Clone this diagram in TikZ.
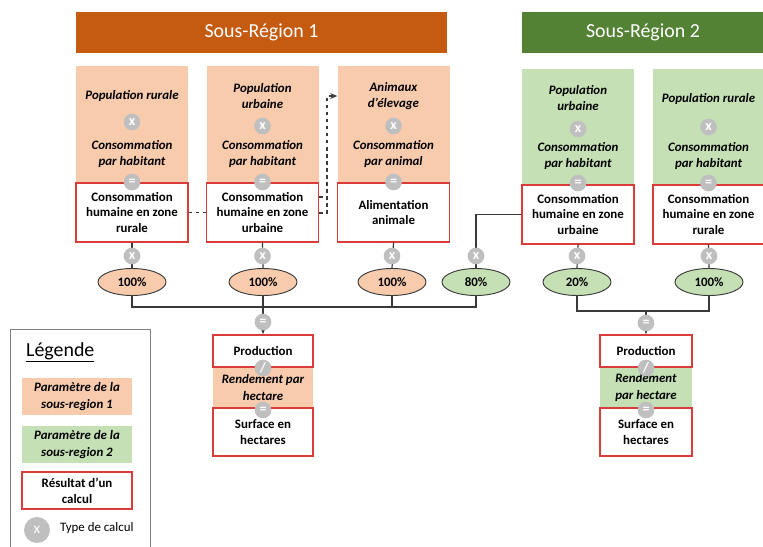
\documentclass[tikz,border=0pt]{standalone}
\usepackage{fontspec}
\setmainfont{Carlito}
\usetikzlibrary{arrows.meta,shapes.geometric}

\definecolor{sroneorange}{HTML}{C55A11}
\definecolor{srtwogreen}{HTML}{548235}
\definecolor{paramone}{HTML}{F8CBAD}
\definecolor{paramtwo}{HTML}{C5E0B4}
\definecolor{resultred}{HTML}{DA3B3B}
\definecolor{opgray}{HTML}{BFBFBF}
\definecolor{linegray}{HTML}{3A3A3A}

\begin{document}
\begin{tikzpicture}[x=0.03cm, y=-0.03cm,
    header/.style={minimum height=1.23cm, inner sep=0, text=white, font=\fontsize{17}{20}\selectfont},
    parambox/.style={minimum width=3.36cm, minimum height=3.51cm, inner sep=0},
    ptext/.style={align=center, font=\fontsize{11}{14}\selectfont\bfseries\itshape},
    result/.style={draw=resultred, line width=1.2pt, fill=white, minimum width=3.36cm, minimum height=1.77cm,
                   inner sep=0, align=center, font=\fontsize{11}{13.5}\selectfont\bfseries},
    op/.style={circle, fill=opgray, text=white, minimum size=0.5cm, inner sep=0, font=\fontsize{12}{12}\selectfont\bfseries},
    pct/.style={ellipse, draw=linegray, line width=0.8pt, minimum width=2.04cm, minimum height=0.81cm,
                inner sep=0, font=\fontsize{11}{13}\selectfont\bfseries},
    link/.style={draw=linegray, line width=1pt}]
    \useasboundingbox (0,0) rectangle (763,546);

    % en-tetes
    \node[header, fill=sroneorange, minimum width=11.13cm] (srone) at (261.5,32.5) {Sous-Région 1};
    \node[header, fill=srtwogreen, minimum width=7.26cm] (srtwo) at (643,32.5) {Sous-Région 2};

    % parametres
    \node[parambox, fill=paramone] (pA) at (132,124.5) {};
    \node[parambox, fill=paramone] (pB) at (262.5,124.5) {};
    \node[parambox, fill=paramone] (pC) at (393.5,124.5) {};
    \node[parambox, fill=paramtwo, minimum height=3.48cm] (pD) at (578,127) {};
    \node[parambox, fill=paramtwo, minimum height=3.48cm, minimum width=3.33cm] (pE) at (708.5,127) {};

    \node[ptext] (tA1) at (132,96) {Population rurale};
    \node[ptext] (tA2) at (132,154) {Consommation\\par habitant};
    \node[ptext] (tB1) at (262.5,96) {Population\\urbaine};
    \node[ptext] (tB2) at (262.5,154) {Consommation\\par habitant};
    \node[ptext] (tC1) at (393.5,96) {Animaux\\d’élevage};
    \node[ptext] (tC2) at (393.5,154) {Consommation\\par animal};
    \node[ptext] (tD1) at (578,98) {Population\\urbaine};
    \node[ptext] (tD2) at (578,156) {Consommation\\par habitant};
    \node[ptext] (tE1) at (708.5,99) {Population rurale};
    \node[ptext] (tE2) at (708.5,156) {Consommation\\par habitant};

    % resultats
    \node[result] (rA) at (132,212.5) {Consommation\\humaine en zone\\rurale};
    \node[result] (rB) at (262.5,212.5) {Consommation\\humaine en zone\\urbaine};
    \node[result] (rC) at (393.5,212.5) {Alimentation\\animale};
    \node[result] (rD) at (578,214.5) {Consommation\\humaine en zone\\urbaine};
    \node[result, minimum width=3.33cm] (rE) at (708.5,214.5) {Consommation\\humaine en zone\\rurale};

    % pourcentages
    \node[pct, fill=paramone] (eA) at (132,282) {100\%};
    \node[pct, fill=paramone] (eB) at (263,282) {100\%};
    \node[pct, fill=paramone] (eC) at (392,282) {100\%};
    \node[pct, fill=paramtwo] (eD) at (476,282) {80\%};
    \node[pct, fill=paramtwo] (eE) at (577,282) {20\%};
    \node[pct, fill=paramtwo] (eF) at (709,282) {100\%};

    % production
    \node[parambox, fill=paramone, minimum width=3cm, minimum height=1.23cm, ptext] (rendA) at (263,387.5) {Rendement par\\hectare};
    \node[result, minimum width=3cm, minimum height=0.96cm] (prodA) at (263,351) {Production};
    \node[result, minimum width=3cm, minimum height=1.44cm] (surfA) at (263,432) {Surface en\\hectares};
    \node[parambox, fill=paramtwo, minimum width=2.76cm, minimum height=1.23cm, ptext] (rendB) at (646,387.5) {Rendement\\par hectare};
    \node[result, minimum width=2.76cm, minimum height=0.96cm] (prodB) at (646,351) {Production};
    \node[result, minimum width=2.76cm, minimum height=1.44cm] (surfB) at (646,432) {Surface en\\hectares};

    % liens
    \draw[link] (rA.south) -- (eA.north);
    \draw[link] (rB.south) -- (eB.north);
    \draw[link] (rC.south) -- (eC.north);
    \draw[link] (rD.south) -- (eE.north);
    \draw[link] (rE.south) -- (eF.north);
    \draw[link] (rD.west) -| (eD.north);

    \draw[link] (eA.south) -- (eA.south |- 0,307) -- (eD.south |- 0,307) -- (eD.south);
    \draw[link] (eB.south) -- (eB.south |- 0,307);
    \draw[link] (eC.south) -- (eC.south |- 0,307);
    \draw[link, -{Stealth[length=5pt]}] (eB.south |- 0,307) -- (prodA.north);

    \draw[link] (eE.south) -- (eE.south |- 0,311) -- (eF.south |- 0,311) -- (eF.south);
    \draw[link, -{Stealth[length=5pt]}] (prodB.north |- 0,311) -- (prodB.north);

    \draw[link, dashed] (rA.east) -- (rB.west);
    \draw[link, dashed] (rB.east |- 0,197) -- (327,197);
    \draw[link, dashed, -{Stealth[length=6pt,width=5pt]}] (rB.east |- 0,213) -- (327,213) -- (327,96) -- (pC.west |- 0,96);

    % operations
    \foreach \px/\py/\op/\nm in {132/122/x/oA1, 132/182/=/oA2, 262.5/126/x/oB1, 262.5/182/=/oB2,
        393.5/126/x/oC1, 393.5/182/=/oC2, 578/129/x/oD1, 578/183/=/oD2, 708.5/127/x/oE1, 708.5/183/=/oE2,
        132/256/x/oA3, 262.5/256/x/oB3, 392/256/x/oC3, 476/256/x/oD3, 577/256/x/oE3, 709/256/x/oF3,
        263/322/=/oP1, 263/368/\slash/oP2, 263/410/=/oP3, 646/323/=/oQ1, 646/368/\slash/oQ2, 646/410/=/oQ3}
        \node[op] (\nm) at (\px,\py) {\op};

    % legende
    \draw[gray, line width=0.8pt] (10,547) -- (10,329) -- (150,329) -- (150,547);
    \node[anchor=west, font=\fontsize{17}{20}\selectfont] (legtitle) at (22,352) {\underline{Légende}};
    \node[parambox, fill=paramone, minimum width=3.3cm, minimum height=1.11cm, ptext] (legone) at (77,396.5) {Paramètre de la\\sous-region 1};
    \node[parambox, fill=paramtwo, minimum width=3.3cm, minimum height=1.11cm, ptext] (legtwo) at (77,444.5) {Paramètre de la\\sous-region 2};
    \node[result, minimum width=3.3cm, minimum height=1.11cm] (legres) at (77,490.5) {Résultat d’un\\calcul};
    \node[op, minimum size=0.78cm, font=\fontsize{13}{13}\selectfont] (legop) at (37,530) {x};
    \node[anchor=west, font=\fontsize{11}{13}\selectfont] (legoptext) at (56,528) {Type de calcul};
\end{tikzpicture}
\end{document}
